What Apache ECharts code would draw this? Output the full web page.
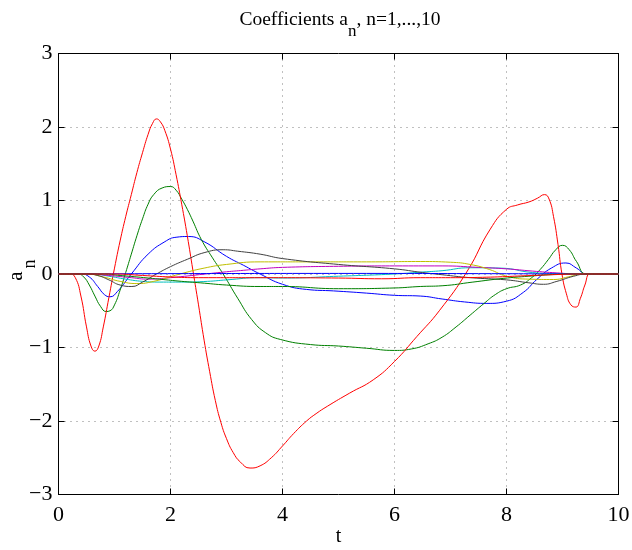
<!DOCTYPE html>
<html>
<head>
<meta charset="utf-8">
<script src="https://cdn.jsdelivr.net/npm/echarts@6/dist/echarts.min.js"></script>
<style>
html,body{margin:0;padding:0;background:#fff;}
#chart{width:632px;height:550px;}
</style>
</head>
<body>
<div id="chart"></div>
<script>
// Tick labels
var xTicks = [0, 2, 4, 6, 8, 10];
var yTicks = [-3, -2, -1, 0, 1, 2, 3];

// Series values [t, a_n(t)]
var a1 = [[0,0],[0.4,0],[0.55,-0.04],[0.7,-0.17],[0.82,-0.28],[0.92,-0.31],[1.05,-0.24],[1.3,0],[1.6,0.27],[1.9,0.44],[2.1,0.5],[2.32,0.51],[2.6,0.44],[3.0,0.24],[3.3,0.12],[3.6,0],[4.0,-0.14],[4.43,-0.21],[4.91,-0.23],[5.5,-0.26],[6.0,-0.29],[6.46,-0.3],[6.85,-0.34],[7.25,-0.38],[7.65,-0.4],[8.0,-0.37],[8.3,-0.25],[8.54,-0.075],[8.8,0.08],[9.06,0.15],[9.25,0.08],[9.43,0],[10,0]];
var a2 = [[0,0],[0.35,0],[0.45,-0.04],[0.55,-0.15],[0.65,-0.3],[0.75,-0.44],[0.85,-0.51],[0.92,-0.5],[1.0,-0.42],[1.1,-0.22],[1.2,0.02],[1.3,0.27],[1.4,0.52],[1.5,0.75],[1.6,0.95],[1.7,1.08],[1.85,1.17],[2.0,1.19],[2.1,1.14],[2.2,1.02],[2.3,0.88],[2.4,0.72],[2.55,0.47],[2.75,0.22],[2.94,0],[3.2,-0.33],[3.45,-0.62],[3.7,-0.8],[3.96,-0.89],[4.5,-0.96],[5.0,-0.98],[5.5,-1.01],[6.0,-1.04],[6.3,-1.02],[6.6,-0.95],[6.85,-0.86],[7.1,-0.72],[7.35,-0.56],[7.6,-0.4],[7.8,-0.28],[8.0,-0.2],[8.25,-0.15],[8.45,-0.05],[8.6,0.06],[8.75,0.2],[8.88,0.33],[9.0,0.39],[9.12,0.33],[9.25,0.17],[9.43,0],[10,0]];
var a3 = [[0,0],[0.2,0],[0.3,-0.05],[0.4,-0.3],[0.5,-0.72],[0.58,-0.98],[0.65,-1.05],[0.72,-0.98],[0.8,-0.72],[0.9,-0.32],[1.0,0.08],[1.1,0.45],[1.2,0.78],[1.3,1.08],[1.4,1.38],[1.5,1.65],[1.6,1.9],[1.68,2.05],[1.75,2.11],[1.82,2.07],[1.9,1.95],[2.0,1.7],[2.1,1.35],[2.2,0.95],[2.3,0.52],[2.4,0.05],[2.5,-0.42],[2.6,-0.9],[2.7,-1.33],[2.8,-1.72],[2.9,-2.02],[3.0,-2.24],[3.12,-2.43],[3.25,-2.56],[3.42,-2.64],[3.6,-2.61],[3.8,-2.5],[4.0,-2.34],[4.2,-2.17],[4.43,-2.0],[4.6,-1.9],[4.8,-1.8],[5.2,-1.62],[5.62,-1.44],[6.0,-1.19],[6.4,-0.85],[6.8,-0.5],[7.3,0.04],[7.71,0.61],[8.0,0.88],[8.2,0.94],[8.4,0.98],[8.55,1.03],[8.68,1.08],[8.76,1.02],[8.84,0.78],[8.92,0.4],[8.99,0],[9.07,-0.27],[9.15,-0.42],[9.24,-0.45],[9.32,-0.33],[9.4,-0.15],[9.49,0],[9.6,0],[10,0]];
var a4 = [[0,0],[0.6,0],[0.9,-0.03],[1.2,-0.07],[1.5,-0.1],[1.81,-0.11],[2.2,-0.11],[2.66,-0.1],[3.0,-0.08],[3.6,-0.05],[4.0,-0.055],[5.0,-0.03],[6.0,0],[6.46,0.025],[6.85,0.045],[7.35,0.085],[7.9,0.08],[8.46,0.02],[8.9,0.005],[9.3,0],[10,0]];
var a5 = [[0,0],[0.5,0],[0.9,-0.02],[1.3,-0.05],[1.6,-0.07],[2.0,-0.05],[2.62,0],[3.0,0.03],[3.3,0.05],[3.6,0.07],[4.0,0.09],[5.0,0.105],[6.0,0.11],[6.85,0.11],[7.5,0.09],[8.0,0.07],[8.46,0.04],[8.9,0.015],[9.3,0],[10,0]];
var a6 = [[0,0],[0.5,0],[0.8,-0.04],[1.1,-0.1],[1.4,-0.13],[1.7,-0.1],[2.17,0],[2.6,0.08],[3.0,0.13],[3.6,0.165],[4.5,0.165],[5.5,0.165],[6.46,0.17],[7.0,0.16],[7.35,0.13],[7.7,0.06],[8.0,-0.03],[8.4,-0.07],[8.84,-0.075],[9.1,-0.04],[9.35,0],[10,0]];
var a7 = [[0,0],[0.5,0],[0.7,-0.02],[0.9,-0.08],[1.1,-0.15],[1.31,-0.17],[1.5,-0.11],[1.75,0],[2.0,0.1],[2.3,0.2],[2.6,0.29],[2.94,0.33],[3.2,0.31],[3.6,0.27],[4.0,0.21],[5.0,0.13],[6.0,0.07],[6.5,0.02],[6.85,-0.01],[7.35,-0.05],[8.0,-0.08],[8.4,-0.12],[8.66,-0.14],[8.9,-0.1],[9.2,-0.03],[9.43,0],[10,0]];
var a8 = [[0,0],[1.5,0.004],[5,0.008],[8,0.004],[9.3,0],[10,0]];
var a9 = [[0,0],[0.8,0],[1.1,-0.02],[1.4,-0.04],[1.8,-0.07],[2.2,-0.1],[2.53,-0.12],[3.0,-0.15],[3.6,-0.17],[4.0,-0.17],[5.0,-0.2],[6.0,-0.19],[6.46,-0.17],[6.85,-0.16],[7.4,-0.11],[7.94,-0.06],[8.4,-0.03],[8.9,-0.005],[9.2,0],[10,0]];
var a10 = [[0,0],[1.0,0],[1.5,-0.02],[2.0,-0.04],[2.5,-0.05],[3.6,-0.05],[5.0,-0.055],[5.77,-0.065],[6.46,-0.05],[7.0,-0.05],[7.57,-0.045],[8.46,-0.02],[9.0,-0.005],[9.3,0],[10,0]];

var seriesData = [a1, a2, a3, a4, a5, a6, a7, a8, a9, a10];
var colors = ['#0000ff', '#008000', '#ff0000', '#00bfbf', '#bf00bf', '#bfbf00', '#404040', '#0000ff', '#008000', '#ff0000'];

var FONT = '"Liberation Serif", "DejaVu Serif", serif';
var chart = echarts.init(document.getElementById('chart'), null, {renderer: 'canvas'});

var gridLine = {show: true, lineStyle: {color: '#808080', width: 1, type: [1, 5]}};
var tickStyle = {show: true, inside: true, length: 6, lineStyle: {color: '#000', width: 1}};
var lineStyleAxis = {show: true, onZero: false, lineStyle: {color: '#000', width: 1}};

var option = {
  animation: false,
  backgroundColor: '#fff',
  title: {
    text: '{n|Coefficients a}{s|n}{n|, n=1,...,10}',
    left: 335,
    top: 5,
    textAlign: 'center',
    textStyle: {
      fontWeight: 'normal',
      rich: {
        n: {fontFamily: FONT, fontSize: 19.5, fontWeight: 'normal', color: '#000', lineHeight: 30, verticalAlign: 'top'},
        s: {fontFamily: FONT, fontSize: 17, fontWeight: 'normal', color: '#000', lineHeight: 5, verticalAlign: 'bottom'}
      }
    }
  },
  graphic: [{
    type: 'text', x: 16, y: 276, rotation: Math.PI / 2, silent: true,
    style: {text: 'a', align: 'center', verticalAlign: 'middle', fontFamily: FONT, fontSize: 21, fill: '#000'}
  }, {
    type: 'text', x: 30, y: 264, rotation: Math.PI / 2, silent: true,
    style: {text: 'n', align: 'center', verticalAlign: 'middle', fontFamily: FONT, fontSize: 18, fill: '#000'}
  }],
  grid: {left: 58.5, right: 13.5, top: 53.5, bottom: 55.5, containLabel: false, outerBoundsMode: 'none'},
  xAxis: [{
    type: 'value', min: 0, max: 10, interval: 2, position: 'bottom',
    axisLine: lineStyleAxis, axisTick: tickStyle,
    axisLabel: {color: '#000', fontFamily: FONT, fontSize: 22, margin: 10,
      formatter: function (v) { return xTicks.indexOf(v) >= 0 ? String(v) : ''; }},
    splitLine: gridLine,
    name: 't', nameLocation: 'middle', nameGap: 32, nameMoveOverlap: false,
    nameTextStyle: {color: '#000', fontFamily: FONT, fontSize: 20}
  }, {
    type: 'value', min: 0, max: 10, interval: 2, position: 'top',
    axisLine: lineStyleAxis, axisTick: tickStyle,
    axisLabel: {show: false}, splitLine: {show: false}
  }],
  yAxis: [{
    type: 'value', min: -3, max: 3, interval: 1, position: 'left',
    axisLine: lineStyleAxis, axisTick: tickStyle,
    axisLabel: {color: '#000', fontFamily: FONT, fontSize: 22, margin: 6,
      formatter: function (v) { return yTicks.indexOf(v) >= 0 ? String(v).replace('-', '\u2212') : ''; }},
    splitLine: gridLine
  }, {
    type: 'value', min: -3, max: 3, interval: 1, position: 'right',
    axisLine: lineStyleAxis, axisTick: tickStyle,
    axisLabel: {show: false}, splitLine: {show: false}
  }],
  series: seriesData.map(function (d, i) {
    return {
      type: 'line', data: d, xAxisIndex: 0, yAxisIndex: 0,
      showSymbol: false, symbol: 'none', smooth: 0.5,
      lineStyle: {color: colors[i], width: 1}, itemStyle: {color: colors[i]},
      emphasis: {disabled: true}, silent: true
    };
  })
};
chart.setOption(option);
</script>
</body>
</html>
